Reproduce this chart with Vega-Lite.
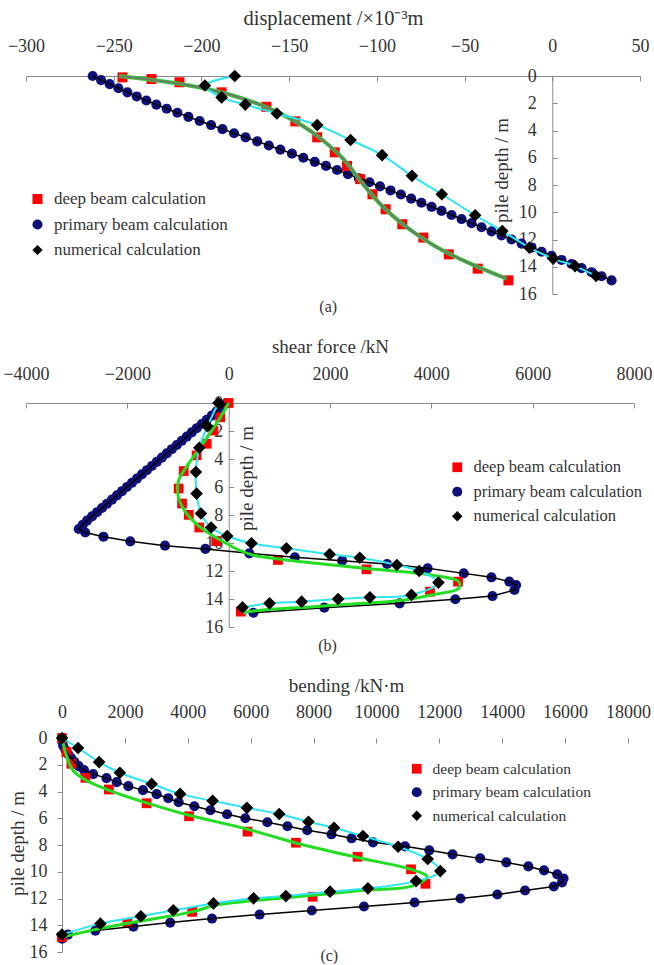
{
  "$schema": "https://vega.github.io/schema/vega-lite/v6.json",
  "background": "white",
  "padding": {"left": 2, "top": 8, "right": 0, "bottom": 0},
  "config": {
    "view": {"stroke": null},
    "font": "Liberation Serif",
    "axis": {"grid": false, "labelFont": "Liberation Serif", "titleFont": "Liberation Serif", "labelFontSize": 18, "titleFontSize": 19, "titleFontWeight": "normal", "labelColor": "#333333", "titleColor": "#333333", "domainColor": "#8a8a8a", "tickColor": "#8a8a8a", "tickSize": 5, "labelOverlap": false, "labelFlush": false},
    "legend": {"labelFont": "Liberation Serif", "labelColor": "#333333", "symbolStrokeWidth": 0, "padding": 0, "rowPadding": 6, "symbolSize": 100, "labelOffset": 8, "labelLimit": 400},
    "title": {"font": "Liberation Serif", "fontSize": 16, "fontWeight": "normal", "color": "#333333"}
  },
  "datasets": {
    "a_pts": [
      {"s":"P","v":-262,"d":0},{"s":"P","v":-257.2,"d":0.3},{"s":"P","v":-252.3,"d":0.6},{"s":"P","v":-247.3,"d":0.9},{"s":"P","v":-242.2,"d":1.2},{"s":"P","v":-236.9,"d":1.5},{"s":"P","v":-231.4,"d":1.8},{"s":"P","v":-225.7,"d":2.1},{"s":"P","v":-219.8,"d":2.4},{"s":"P","v":-213.7,"d":2.7},{"s":"P","v":-207.4,"d":3.0},{"s":"P","v":-201,"d":3.3},{"s":"P","v":-194.5,"d":3.6},{"s":"P","v":-188,"d":3.9},{"s":"P","v":-181.4,"d":4.2},{"s":"P","v":-174.8,"d":4.5},{"s":"P","v":-168.2,"d":4.8},{"s":"P","v":-161.6,"d":5.1},{"s":"P","v":-155,"d":5.4},{"s":"P","v":-148.4,"d":5.7},{"s":"P","v":-141.9,"d":6.0},{"s":"P","v":-135.4,"d":6.3},{"s":"P","v":-129,"d":6.6},{"s":"P","v":-122.7,"d":6.9},{"s":"P","v":-116.5,"d":7.2},{"s":"P","v":-110.3,"d":7.5},{"s":"P","v":-104.2,"d":7.8},{"s":"P","v":-98.2,"d":8.1},{"s":"P","v":-92.2,"d":8.4},{"s":"P","v":-86.3,"d":8.7},{"s":"P","v":-80.4,"d":9.0},{"s":"P","v":-74.6,"d":9.3},{"s":"P","v":-68.8,"d":9.6},{"s":"P","v":-63.1,"d":9.9},{"s":"P","v":-57.4,"d":10.2},{"s":"P","v":-51.7,"d":10.5},{"s":"P","v":-46,"d":10.8},{"s":"P","v":-40.3,"d":11.1},{"s":"P","v":-34.6,"d":11.4},{"s":"P","v":-28.9,"d":11.7},{"s":"P","v":-23.2,"d":12.0},{"s":"P","v":-17.5,"d":12.3},{"s":"P","v":-11.8,"d":12.6},{"s":"P","v":-6.1,"d":12.9},{"s":"P","v":-0.4,"d":13.2},{"s":"P","v":5.3,"d":13.5},{"s":"P","v":11,"d":13.8},{"s":"P","v":16.7,"d":14.1},{"s":"P","v":22.4,"d":14.4},{"s":"P","v":28.1,"d":14.7},{"s":"P","v":33.8,"d":15.0},
      {"s":"D","v":-245,"d":0.1},{"s":"D","v":-228.5,"d":0.22},{"s":"D","v":-212.5,"d":0.46},{"s":"D","v":-188.5,"d":1.2},{"s":"D","v":-163,"d":2.26},{"s":"D","v":-146.5,"d":3.33},{"s":"D","v":-134,"d":4.5},{"s":"D","v":-124,"d":5.6},{"s":"D","v":-117,"d":6.6},{"s":"D","v":-109.5,"d":7.57},{"s":"D","v":-102.5,"d":8.68},{"s":"D","v":-95,"d":9.78},{"s":"D","v":-85.5,"d":10.88},{"s":"D","v":-73.5,"d":11.86},{"s":"D","v":-59,"d":13.09},{"s":"D","v":-42.5,"d":14.14},{"s":"D","v":-25,"d":15.0},
      {"s":"N","v":-181,"d":0},{"s":"N","v":-198,"d":0.7},{"s":"N","v":-188.5,"d":1.57},{"s":"N","v":-175,"d":2.1},{"s":"N","v":-157,"d":2.75},{"s":"N","v":-134,"d":3.6},{"s":"N","v":-115,"d":4.7},{"s":"N","v":-97,"d":5.81},{"s":"N","v":-80,"d":7.33},{"s":"N","v":-63,"d":8.68},{"s":"N","v":-44,"d":10.22},{"s":"N","v":-28.5,"d":11.38},{"s":"N","v":-13,"d":12.6},{"s":"N","v":0.5,"d":13.4},{"s":"N","v":13,"d":13.95},{"s":"N","v":25,"d":14.68}
    ],
    "a_green": [
      {"v":-247,"d":0},{"v":-211,"d":0.6},{"v":-185,"d":1.32},{"v":-160,"d":2.45},{"v":-143,"d":3.6},{"v":-131,"d":4.7},{"v":-119,"d":6.1},{"v":-108.6,"d":7.82},{"v":-97,"d":9.54},{"v":-84,"d":11.0},{"v":-67,"d":12.48},{"v":-48,"d":13.7},{"v":-26,"d":14.88}
    ],
    "b_pts": [
      {"s":"P","v":-40,"d":0},{"s":"P","v":-138,"d":0.3},{"s":"P","v":-237,"d":0.6},{"s":"P","v":-335,"d":0.9},{"s":"P","v":-434,"d":1.2},{"s":"P","v":-532,"d":1.5},{"s":"P","v":-630,"d":1.8},{"s":"P","v":-729,"d":2.1},{"s":"P","v":-827,"d":2.4},{"s":"P","v":-926,"d":2.7},{"s":"P","v":-1024,"d":3.0},{"s":"P","v":-1122,"d":3.3},{"s":"P","v":-1221,"d":3.6},{"s":"P","v":-1319,"d":3.9},{"s":"P","v":-1418,"d":4.2},{"s":"P","v":-1516,"d":4.5},{"s":"P","v":-1614,"d":4.8},{"s":"P","v":-1713,"d":5.1},{"s":"P","v":-1811,"d":5.4},{"s":"P","v":-1910,"d":5.7},{"s":"P","v":-2008,"d":6.0},{"s":"P","v":-2106,"d":6.3},{"s":"P","v":-2205,"d":6.6},{"s":"P","v":-2303,"d":6.9},{"s":"P","v":-2402,"d":7.2},{"s":"P","v":-2500,"d":7.5},{"s":"P","v":-2598,"d":7.8},{"s":"P","v":-2697,"d":8.1},{"s":"P","v":-2795,"d":8.4},{"s":"P","v":-2880,"d":8.7},{"s":"P","v":-2960,"d":9.0},{"s":"P","v":-2830,"d":9.25},{"s":"P","v":-2471,"d":9.55},{"s":"P","v":-1942,"d":9.88},{"s":"P","v":-1256,"d":10.19},{"s":"P","v":-460,"d":10.42},{"s":"P","v":407,"d":10.74},{"s":"P","v":1307,"d":11.02},{"s":"P","v":2240,"d":11.26},{"s":"P","v":3127,"d":11.5},{"s":"P","v":3927,"d":11.81},{"s":"P","v":4640,"d":12.17},{"s":"P","v":5187,"d":12.45},{"s":"P","v":5540,"d":12.76},{"s":"P","v":5673,"d":13.0},{"s":"P","v":5640,"d":13.36},{"s":"P","v":5207,"d":13.79},{"s":"P","v":4473,"d":14.02},{"s":"P","v":3373,"d":14.31},{"s":"P","v":1887,"d":14.62},{"s":"P","v":487,"d":14.98},
      {"s":"D","v":0,"d":0},{"s":"D","v":-167,"d":1.02},{"s":"D","v":-300,"d":1.97},{"s":"D","v":-433,"d":2.91},{"s":"D","v":-633,"d":3.74},{"s":"D","v":-887,"d":4.86},{"s":"D","v":-987,"d":6.11},{"s":"D","v":-920,"d":7.18},{"s":"D","v":-787,"d":7.99},{"s":"D","v":-580,"d":8.89},{"s":"D","v":-245,"d":9.87},{"s":"D","v":973,"d":11.21},{"s":"D","v":2720,"d":11.88},{"s":"D","v":4527,"d":12.76},{"s":"D","v":3973,"d":13.48},{"s":"D","v":240,"d":14.9},
      {"s":"N","v":-200,"d":0},{"s":"N","v":-420,"d":1.66},{"s":"N","v":-580,"d":3.2},{"s":"N","v":-647,"d":4.93},{"s":"N","v":-633,"d":6.47},{"s":"N","v":-547,"d":7.89},{"s":"N","v":-347,"d":8.89},{"s":"N","v":-30,"d":9.5},{"s":"N","v":450,"d":10.02},{"s":"N","v":1140,"d":10.38},{"s":"N","v":1993,"d":10.81},{"s":"N","v":2587,"d":11.05},{"s":"N","v":3320,"d":11.57},{"s":"N","v":3760,"d":12.0},{"s":"N","v":4140,"d":12.83},{"s":"N","v":3607,"d":13.71},{"s":"N","v":2787,"d":13.88},{"s":"N","v":2160,"d":14.0},{"s":"N","v":1440,"d":14.19},{"s":"N","v":807,"d":14.31},{"s":"N","v":273,"d":14.6}
    ],
    "b_green": [
      {"v":0,"d":0},{"v":-160,"d":1.0},{"v":-300,"d":1.78},{"v":-567,"d":3.2},{"v":-800,"d":4.38},{"v":-990,"d":5.57},{"v":-990,"d":6.75},{"v":-867,"d":7.7},{"v":-633,"d":8.65},{"v":-367,"d":9.36},{"v":-60,"d":10.0},{"v":200,"d":10.5},{"v":473,"d":10.86},{"v":1000,"d":11.15},{"v":1340,"d":11.3},{"v":2673,"d":11.81},{"v":4000,"d":12.29},{"v":4540,"d":12.76},{"v":4540,"d":13.24},{"v":4000,"d":13.71},{"v":3473,"d":14.07},{"v":2673,"d":14.31},{"v":1673,"d":14.55},{"v":673,"d":14.79},{"v":273,"d":14.98}
    ],
    "c_pts": [
      {"s":"P","v":0,"d":0},{"s":"P","v":15,"d":0.3},{"s":"P","v":40,"d":0.6},{"s":"P","v":110,"d":0.9},{"s":"P","v":195,"d":1.2},{"s":"P","v":290,"d":1.5},{"s":"P","v":400,"d":1.8},{"s":"P","v":530,"d":2.1},{"s":"P","v":700,"d":2.4},{"s":"P","v":990,"d":2.7},{"s":"P","v":1415,"d":3.0},{"s":"P","v":1740,"d":3.3},{"s":"P","v":2110,"d":3.6},{"s":"P","v":2575,"d":3.9},{"s":"P","v":3010,"d":4.2},{"s":"P","v":3380,"d":4.5},{"s":"P","v":3710,"d":4.8},{"s":"P","v":4210,"d":5.1},{"s":"P","v":4720,"d":5.4},{"s":"P","v":5250,"d":5.7},{"s":"P","v":5830,"d":6.0},{"s":"P","v":6530,"d":6.3},{"s":"P","v":7170,"d":6.6},{"s":"P","v":7800,"d":6.9},{"s":"P","v":8570,"d":7.2},{"s":"P","v":9210,"d":7.5},{"s":"P","v":9890,"d":7.8},{"s":"P","v":10910,"d":8.1},{"s":"P","v":11680,"d":8.4},{"s":"P","v":12420,"d":8.7},{"s":"P","v":13300,"d":9.0},{"s":"P","v":14130,"d":9.3},{"s":"P","v":14830,"d":9.6},{"s":"P","v":15330,"d":9.9},{"s":"P","v":15750,"d":10.2},{"s":"P","v":15950,"d":10.5},{"s":"P","v":15900,"d":10.8},{"s":"P","v":15640,"d":11.1},{"s":"P","v":14726,"d":11.4},{"s":"P","v":13844,"d":11.7},{"s":"P","v":12674,"d":12.0},{"s":"P","v":11214,"d":12.3},{"s":"P","v":9603,"d":12.6},{"s":"P","v":7944,"d":12.9},{"s":"P","v":6284,"d":13.2},{"s":"P","v":4771,"d":13.5},{"s":"P","v":3441,"d":13.8},{"s":"P","v":2270,"d":14.1},{"s":"P","v":1060,"d":14.4},{"s":"P","v":190,"d":14.7},{"s":"P","v":0,"d":15.0},
      {"s":"D","v":0,"d":0},{"s":"D","v":140,"d":1.05},{"s":"D","v":300,"d":1.93},{"s":"D","v":745,"d":2.98},{"s":"D","v":1490,"d":3.85},{"s":"D","v":2690,"d":4.88},{"s":"D","v":4040,"d":5.85},{"s":"D","v":5900,"d":7.0},{"s":"D","v":7440,"d":7.83},{"s":"D","v":9400,"d":8.88},{"s":"D","v":11100,"d":9.82},{"s":"D","v":11560,"d":10.9},{"s":"D","v":7970,"d":11.87},{"s":"D","v":4140,"d":13.0},{"s":"D","v":2080,"d":13.83},{"s":"D","v":0,"d":14.88},
      {"s":"N","v":0,"d":0},{"s":"N","v":510,"d":0.75},{"s":"N","v":1180,"d":1.8},{"s":"N","v":1840,"d":2.6},{"s":"N","v":2850,"d":3.43},{"s":"N","v":3756,"d":4.18},{"s":"N","v":4790,"d":4.7},{"s":"N","v":5880,"d":5.22},{"s":"N","v":6908,"d":5.68},{"s":"N","v":7837,"d":6.26},{"s":"N","v":8651,"d":6.71},{"s":"N","v":9571,"d":7.33},{"s":"N","v":10690,"d":8.13},{"s":"N","v":11630,"d":9.05},{"s":"N","v":12032,"d":9.95},{"s":"N","v":11260,"d":10.7},{"s":"N","v":9729,"d":11.24},{"s":"N","v":8525,"d":11.49},{"s":"N","v":7120,"d":11.82},{"s":"N","v":6094,"d":11.99},{"s":"N","v":4817,"d":12.37},{"s":"N","v":3540,"d":12.88},{"s":"N","v":2506,"d":13.33},{"s":"N","v":1220,"d":13.88},{"s":"N","v":0,"d":14.7}
    ],
    "c_green": [
      {"v":0,"d":0},{"v":140,"d":1.3},{"v":350,"d":2.43},{"v":780,"d":3.18},{"v":1520,"d":3.93},{"v":2690,"d":4.85},{"v":4075,"d":5.8},{"v":5670,"d":6.68},{"v":6630,"d":7.3},{"v":7440,"d":7.85},{"v":9390,"d":8.93},{"v":11100,"d":9.82},{"v":11610,"d":10.37},{"v":11130,"d":11.07},{"v":9660,"d":11.37},{"v":8070,"d":11.74},{"v":6490,"d":12.07},{"v":4900,"d":12.49},{"v":4140,"d":13.0},{"v":2080,"d":13.85},{"v":900,"d":14.4},{"v":0,"d":14.88}
    ]
  },
  "concat": [
    {
      "width": 614, "height": 218,
      "title": {"text": "(a)", "orient": "bottom", "anchor": "middle", "frame": "bounds", "offset": -4},
      "encoding": {
        "x": {"field": "v", "type": "quantitative", "scale": {"domain": [-300, 50], "nice": false, "zero": false},
          "axis": {"orient": "top", "title": "displacement /×10⁻³m", "titleFontSize": 20.5, "values": [-300,-250,-200,-150,-100,-50,0,50], "tickSize": -5, "labelPadding": 25.2, "titlePadding": 9.8}},
        "y": {"field": "d", "type": "quantitative", "scale": {"domain": [0, 16], "reverse": true, "nice": false, "zero": false},
          "axis": {"orient": "left", "offset": -526.3, "title": "pile depth / m", "values": [0,2,4,6,8,10,12,14,16], "tickSize": -5, "labelPadding": 21, "titleX": -51, "titleY": 94, "titleBaseline": "middle", "titleAlign": "center", "titleAngle": 270}}
      },
      "layer": [
        {"data": {"name": "a_pts"}, "mark": {"type": "point", "filled": true, "opacity": 1},
          "encoding": {
            "color": {"field": "s", "type": "nominal", "scale": {"domain": ["D","P","N"], "range": ["#ff0000","#10107a","#000000"]},
              "legend": {"orient": "none", "legendX": 3, "legendY": 114.5, "title": null, "labelFontSize": 17, "rowPadding": 7.5, "labelExpr": "datum.label == 'D' ? 'deep beam calculation' : datum.label == 'P' ? 'primary beam calculation' : 'numerical calculation'",
                "encode": {"symbols": {"update": {"fill": {"signal": "datum.value === 'D' ? '#ff0000' : datum.value === 'P' ? '#1010dd' : '#000000'"}}}}}},
            "shape": {"field": "s", "type": "nominal", "scale": {"domain": ["D","P","N"], "range": ["square","circle","diamond"]},
              "legend": {"orient": "none", "legendX": 3, "legendY": 114.5, "title": null, "labelFontSize": 17, "rowPadding": 7.5, "labelExpr": "datum.label == 'D' ? 'deep beam calculation' : datum.label == 'P' ? 'primary beam calculation' : 'numerical calculation'"}},
            "size": {"field": "s", "type": "nominal", "scale": {"domain": ["D","P","N"], "range": [100, 105, 160]}, "legend": null}
          }},
        {"data": {"name": "a_pts"}, "transform": [{"filter": "datum.s === 'P'"}], "mark": {"type": "line", "color": "#000000", "strokeWidth": 1.5}, "encoding": {"order": {"field": "d", "type": "quantitative"}}},
        {"data": {"name": "a_green"}, "mark": {"type": "line", "color": "#33cc33", "strokeWidth": 4, "interpolate": "catmull-rom"}, "encoding": {"order": {"field": "d", "type": "quantitative"}}},
        {"data": {"name": "a_green"}, "mark": {"type": "line", "color": "#6e7a6e", "strokeWidth": 2, "interpolate": "catmull-rom"}, "encoding": {"order": {"field": "d", "type": "quantitative"}}},
        {"data": {"name": "a_pts"}, "transform": [{"filter": "datum.s === 'N'"}], "mark": {"type": "line", "color": "#2ee6f2", "strokeWidth": 2, "interpolate": "catmull-rom"}, "encoding": {"order": {"field": "d", "type": "quantitative"}}},
        {"data": {"name": "a_pts"}, "transform": [{"filter": "datum.s === 'N'"}], "mark": {"type": "point", "filled": true, "opacity": 1, "shape": "diamond", "color": "#000000", "size": 160}}
      ]
    },
    {
      "width": 608, "height": 224,
      "title": {"text": "(b)", "orient": "bottom", "anchor": "middle", "frame": "bounds", "offset": 2},
      "encoding": {
        "x": {"field": "v", "type": "quantitative", "scale": {"domain": [-4000, 8000], "nice": false, "zero": false},
          "axis": {"orient": "top", "title": "shear force /kN", "format": "d", "values": [-4000,-2000,0,2000,4000,6000,8000], "tickSize": -5, "labelPadding": 24.2, "titlePadding": 9.3}},
        "y": {"field": "d", "type": "quantitative", "scale": {"domain": [0, 16], "reverse": true, "nice": false, "zero": false},
          "axis": {"orient": "left", "offset": -202.7, "title": "pile depth / m", "values": [0,2,4,6,8,10,12,14,16], "tickSize": -5, "labelPadding": 11, "titleX": 18, "titleY": 75, "titleBaseline": "middle", "titleAlign": "center", "titleAngle": 270}}
      },
      "layer": [
        {"data": {"name": "b_pts"}, "mark": {"type": "point", "filled": true, "opacity": 1},
          "encoding": {
            "color": {"field": "s", "type": "nominal", "scale": {"domain": ["D","P","N"], "range": ["#ff0000","#10107a","#000000"]},
              "legend": {"orient": "none", "legendX": 423, "legendY": 56, "title": null, "labelFontSize": 16.5, "rowPadding": 7.5, "labelExpr": "datum.label == 'D' ? 'deep beam calculation' : datum.label == 'P' ? 'primary beam calculation' : 'numerical calculation'",
                "encode": {"symbols": {"update": {"fill": {"signal": "datum.value === 'D' ? '#ff0000' : datum.value === 'P' ? '#1010dd' : '#000000'"}}}}}},
            "shape": {"field": "s", "type": "nominal", "scale": {"domain": ["D","P","N"], "range": ["square","circle","diamond"]},
              "legend": {"orient": "none", "legendX": 423, "legendY": 56, "title": null, "labelFontSize": 16.5, "rowPadding": 7.5, "labelExpr": "datum.label == 'D' ? 'deep beam calculation' : datum.label == 'P' ? 'primary beam calculation' : 'numerical calculation'"}},
            "size": {"field": "s", "type": "nominal", "scale": {"domain": ["D","P","N"], "range": [95, 110, 160]}, "legend": null}
          }},
        {"data": {"name": "b_pts"}, "transform": [{"filter": "datum.s === 'P'"}], "mark": {"type": "line", "color": "#000000", "strokeWidth": 1.5}, "encoding": {"order": {"field": "d", "type": "quantitative"}}},
        {"data": {"name": "b_green"}, "mark": {"type": "line", "color": "#22dd22", "strokeWidth": 3, "interpolate": "catmull-rom"}, "encoding": {"order": {"field": "d", "type": "quantitative"}}},
        {"data": {"name": "b_pts"}, "transform": [{"filter": "datum.s === 'N'"}], "mark": {"type": "line", "color": "#2ee6f2", "strokeWidth": 2, "interpolate": "catmull-rom"}, "encoding": {"order": {"field": "d", "type": "quantitative"}}},
        {"data": {"name": "b_pts"}, "transform": [{"filter": "datum.s === 'N'"}], "mark": {"type": "point", "filled": true, "opacity": 1, "shape": "diamond", "color": "#000000", "size": 160}}
      ]
    },
    {
      "width": 602, "height": 214,
      "title": {"text": "(c)", "orient": "bottom", "anchor": "middle", "frame": "bounds", "offset": -13},
      "encoding": {
        "x": {"field": "v", "type": "quantitative", "scale": {"domain": [-1144.9, 18000], "nice": false, "zero": false},
          "axis": {"orient": "top", "title": "bending /kN·m", "titleX": 320, "format": "d", "domain": false, "values": [0,2000,4000,6000,8000,10000,12000,14000,16000,18000], "tickSize": -5, "labelPadding": 21.2, "titlePadding": 8.3}},
        "y": {"field": "d", "type": "quantitative", "scale": {"domain": [0, 16], "reverse": true, "nice": false, "zero": false},
          "axis": {"orient": "left", "offset": -36, "title": "pile depth / m", "values": [0,2,4,6,8,10,12,14,16], "labelPadding": 10, "titleX": -45, "titleY": 105, "titleBaseline": "middle", "titleAlign": "center", "titleAngle": 270}}
      },
      "layer": [
        {"data": {"values": [{}]}, "mark": {"type": "rule", "color": "#8a8a8a", "strokeWidth": 1}, "encoding": {"x": {"datum": 0}, "x2": {"datum": 18000}, "y": {"datum": 0}}},
        {"data": {"name": "c_pts"}, "mark": {"type": "point", "filled": true, "opacity": 1},
          "encoding": {
            "color": {"field": "s", "type": "nominal", "scale": {"domain": ["D","P","N"], "range": ["#ff0000","#10107a","#000000"]},
              "legend": {"orient": "none", "legendX": 383, "legendY": 23, "title": null, "labelFontSize": 15.5, "rowPadding": 6.5, "labelExpr": "datum.label == 'D' ? 'deep beam calculation' : datum.label == 'P' ? 'primary beam calculation' : 'numerical calculation'",
                "encode": {"symbols": {"update": {"fill": {"signal": "datum.value === 'D' ? '#ff0000' : datum.value === 'P' ? '#1010dd' : '#000000'"}}}}}},
            "shape": {"field": "s", "type": "nominal", "scale": {"domain": ["D","P","N"], "range": ["square","circle","diamond"]},
              "legend": {"orient": "none", "legendX": 383, "legendY": 23, "title": null, "labelFontSize": 15.5, "rowPadding": 6.5, "labelExpr": "datum.label == 'D' ? 'deep beam calculation' : datum.label == 'P' ? 'primary beam calculation' : 'numerical calculation'"}},
            "size": {"field": "s", "type": "nominal", "scale": {"domain": ["D","P","N"], "range": [95, 110, 160]}, "legend": null}
          }},
        {"data": {"name": "c_pts"}, "transform": [{"filter": "datum.s === 'P'"}], "mark": {"type": "line", "color": "#000000", "strokeWidth": 1.5}, "encoding": {"order": {"field": "d", "type": "quantitative"}}},
        {"data": {"name": "c_green"}, "mark": {"type": "line", "color": "#22dd22", "strokeWidth": 3, "interpolate": "catmull-rom"}, "encoding": {"order": {"field": "d", "type": "quantitative"}}},
        {"data": {"name": "c_pts"}, "transform": [{"filter": "datum.s === 'N'"}], "mark": {"type": "line", "color": "#2ee6f2", "strokeWidth": 2, "interpolate": "catmull-rom"}, "encoding": {"order": {"field": "d", "type": "quantitative"}}},
        {"data": {"name": "c_pts"}, "transform": [{"filter": "datum.s === 'N'"}], "mark": {"type": "point", "filled": true, "opacity": 1, "shape": "diamond", "color": "#000000", "size": 160}}
      ]
    }
  ],
  "columns": 1,
  "spacing": 22,
  "center": false,
  "bounds": "full",
  "resolve": {"scale": {"color": "independent", "shape": "independent", "size": "independent"}, "legend": {"color": "independent", "shape": "independent", "size": "independent"}}
}
